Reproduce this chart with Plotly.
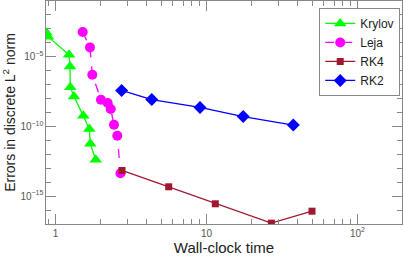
import plotly.graph_objects as go

krylov_t = [0.872, 0.892, 1.229, 1.247, 1.253, 1.326, 1.528, 1.675, 1.700, 1.846]
krylov_e = [10**-3.28, 10**-3.56, 10**-4.86, 10**-5.70, 10**-7.18, 10**-7.85, 10**-9.24, 10**-10.19, 10**-11.25, 10**-12.39]

leja_t = [1.514, 1.692, 1.753, 2.0, 2.217, 2.321, 2.439, 2.566, 2.694]
leja_e = [10**-3.23, 10**-4.33, 10**-6.29, 10**-8.09, 10**-8.32, 10**-8.75, 10**-9.88, 10**-10.67, 10**-13.36]

rk4_t = [2.757, 5.62, 11.44, 26.9, 50.0]
rk4_e = [10**-13.16, 10**-14.33, 10**-15.55, 10**-16.94, 10**-16.08]

rk2_t = [2.74, 4.34, 9.06, 17.5, 37.6]
rk2_e = [10**-7.42, 10**-8.07, 10**-8.64, 10**-9.29, 10**-9.90]

FONT = "Liberation Sans, Arial, sans-serif"

fig = go.Figure()
fig.add_trace(go.Scatter(x=krylov_t, y=krylov_e, name="Krylov", mode="lines+markers",
                         line=dict(color="#00ff00", width=1.3),
                         marker=dict(symbol="triangle-up", size=11, color="#00ff00")))
fig.add_trace(go.Scatter(x=leja_t, y=leja_e, name="Leja", mode="lines+markers",
                         line=dict(color="#ff00ff", width=1.3, dash="dash"),
                         marker=dict(symbol="circle", size=10, color="#ff00ff")))
fig.add_trace(go.Scatter(x=rk4_t, y=rk4_e, name="RK4", mode="lines+markers",
                         line=dict(color="#a01830", width=1.3),
                         marker=dict(symbol="square", size=7, color="#a01830")))
fig.add_trace(go.Scatter(x=rk2_t, y=rk2_e, name="RK2", mode="lines+markers",
                         line=dict(color="#0000ff", width=1.3),
                         marker=dict(symbol="diamond", size=10, color="#0000ff")))

axis_common = dict(showgrid=False, zeroline=False, showline=True, linecolor="#888888",
                   linewidth=1, mirror="allticks", ticks="inside", tickcolor="#888888",
                   ticklen=10, tickwidth=1, exponentformat="power",
                   tickfont=dict(family=FONT, size=8, color="#555555"))

fig.update_xaxes(type="log", range=[-0.063, 2.295], dtick=1,
                 minor=dict(ticks="inside", ticklen=5, dtick="D1", tickcolor="#888888", showgrid=False),
                 title=dict(text="Wall-clock time", font=dict(family=FONT, size=15, color="#222222"), standoff=6),
                 **axis_common)
fig.update_yaxes(type="log", range=[-17, -1], dtick=5,
                 minor=dict(ticks="inside", ticklen=5, dtick=1, tickcolor="#888888", showgrid=False),
                 title=dict(text="Errors in discrete L<sup>2</sup> norm", font=dict(family=FONT, size=14, color="#222222"), standoff=4),
                 **axis_common)

fig.update_layout(
    width=404, height=256,
    margin=dict(l=46, r=2, t=1, b=32),
    paper_bgcolor="white", plot_bgcolor="white",
    legend=dict(x=0.995, y=0.969, xanchor="right", yanchor="top",
                bordercolor="#888888", borderwidth=1, bgcolor="white",
                font=dict(family=FONT, size=12, color="#222222"),
                itemwidth=30, tracegroupgap=0),
    font=dict(family=FONT),
)

fig.write_html("out.html", config={"displayModeBar": False},
               post_script="document.body.style.margin='0';document.body.style.overflow='hidden';")
